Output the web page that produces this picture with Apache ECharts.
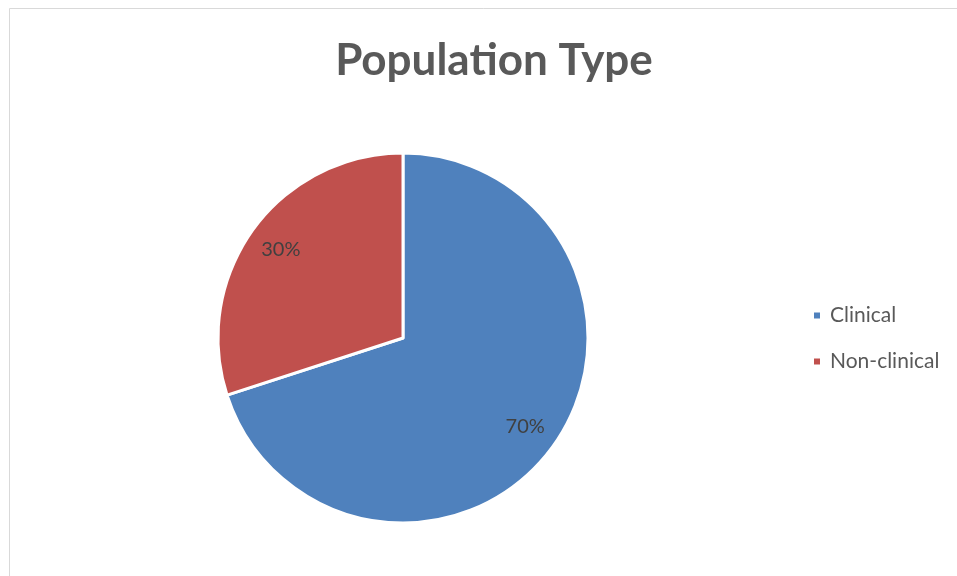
<!DOCTYPE html>
<html>
<head>
<meta charset="utf-8">
<script src="https://cdn.jsdelivr.net/npm/echarts@6/dist/echarts.min.js"></script>
<style>
html, body { margin: 0; padding: 0; background: #fff; }
#main { width: 957px; height: 576px; }
</style>
</head>
<body>
<div id="main"></div>
<script>
var categories = ['Clinical', 'Non-clinical'];
var values = [70, 30];
var colors = ['#4F81BD', '#C0504D'];

var myChart = echarts.init(document.getElementById('main'));

var pieData = categories.map(function (name, i) {
    return { name: name, value: values[i], itemStyle: { color: colors[i] } };
});

option = {
    backgroundColor: '#fff',
    graphic: [{
        type: 'rect',
        shape: { x: 9.5, y: 8.5, width: 1000, height: 600 },
        style: { fill: 'none', stroke: '#d9d9d9', lineWidth: 1 },
        silent: true
    }],
    title: {
        text: 'Population Type',
        left: 489,
        textAlign: 'center',
        top: 34,
        textStyle: {
            color: '#595959',
            fontFamily: 'Lato',
            fontWeight: 'bold',
            fontSize: 44
        }
    },
    legend: {
        orient: 'vertical',
        left: 812,
        top: 305,
        padding: 0,
        icon: 'rect',
        itemWidth: 8,
        itemHeight: 8,
        itemGap: 25,
        data: categories,
        textStyle: {
            color: '#595959',
            fontFamily: 'Lato',
            fontSize: 21,
            padding: [0, 0, 0, 4]
        }
    },
    series: [{
        name: 'Population Type',
        type: 'pie',
        center: [403, 338],
        radius: [0, 185],
        startAngle: 90,
        clockwise: true,
        label: { show: false },
        labelLine: { show: false },
        itemStyle: { borderColor: '#fff', borderWidth: 3 },
        emphasis: { disabled: true },
        data: pieData
    }, {
        // transparent ring only used to place the percentage labels
        name: 'labels',
        type: 'pie',
        center: [403, 338],
        radius: [111, 185],
        startAngle: 90,
        clockwise: true,
        silent: true,
        itemStyle: { color: 'transparent' },
        label: {
            show: true,
            position: 'inside',
            formatter: '{d}%',
            color: '#404040',
            fontFamily: 'Lato',
            fontSize: 20
        },
        labelLine: { show: false },
        emphasis: { disabled: true },
        data: categories.map(function (name, i) {
            return { name: name, value: values[i] };
        })
    }]
};

myChart.setOption(option);
</script>
</body>
</html>
